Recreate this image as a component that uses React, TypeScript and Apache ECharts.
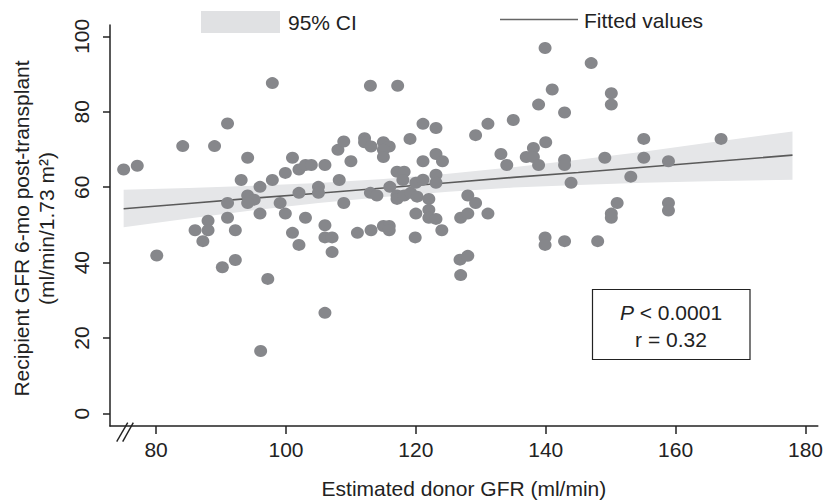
import React, { useEffect, useRef } from "react";
import * as echarts from "echarts";

// Estimated donor GFR (ml/min)
const donorGFR = [
  75.0, 77.1, 80.1, 84.1, 86.0, 87.2, 88.0, 88.0, 89.0, 90.2,
  91.0, 91.0, 91.0, 92.2, 92.2, 93.1, 94.1, 94.1, 95.1, 94.1,
  96.0, 96.0, 96.1, 97.2, 97.9, 97.9, 99.1, 99.9, 99.9, 101.0,
  101.0, 102.0, 102.0, 102.0, 103.0, 103.0, 103.9, 105.0, 105.0, 106.0,
  106.0, 106.0, 107.1, 107.1, 106.0, 108.0, 108.9, 108.2, 108.9, 110.0,
  111.0, 112.1, 112.1, 113.1, 113.0, 113.0, 113.1, 114.0, 115.0, 115.9,
  115.0, 115.0, 115.0, 115.9, 115.9, 116.0, 117.2, 117.1, 118.2, 118.0,
  117.1, 117.1, 118.2, 119.2, 119.1, 120.0, 120.2, 120.0, 119.9, 121.1,
  121.1, 121.1, 122.0, 122.0, 122.0, 123.1, 123.1, 123.1, 123.1, 123.1,
  124.1, 124.0, 126.9, 126.8, 126.9, 128.0, 128.0, 128.0, 129.2, 129.2,
  131.1, 131.1, 133.1, 134.0, 135.0, 137.0, 138.1, 138.1, 138.9, 138.9,
  139.9, 140.0, 139.9, 139.9, 141.0, 142.9, 142.9, 142.9, 142.9, 143.9,
  147.0, 148.0, 149.1, 150.1, 150.1, 150.1, 150.1, 151.0, 153.1, 155.1,
  155.1, 158.9, 158.9, 158.9, 167.0,
];

// Recipient GFR 6-mo post-transplant (ml/min/1.73 m2)
const recipientGFR = [
  64.7, 65.7, 41.9, 70.9, 48.6, 45.7, 51.1, 48.6, 70.9, 38.8,
  76.9, 55.8, 51.9, 48.6, 40.7, 61.9, 67.8, 57.8, 56.7, 55.8,
  60.1, 53.0, 16.6, 35.7, 87.6, 61.9, 55.8, 63.8, 53.0, 67.8,
  47.9, 64.7, 58.5, 44.7, 65.9, 51.9, 65.9, 60.1, 58.5, 65.9,
  49.9, 46.7, 46.7, 42.8, 26.7, 69.9, 72.1, 61.9, 55.8, 66.9,
  47.9, 73.0, 71.9, 70.8, 86.9, 58.5, 48.6, 57.8, 71.9, 70.8,
  69.9, 68.0, 49.7, 49.7, 48.6, 60.1, 86.9, 64.1, 64.1, 61.9,
  57.8, 56.9, 57.8, 58.5, 72.8, 61.2, 57.5, 53.0, 46.7, 76.8,
  66.9, 62.0, 56.9, 54.0, 51.9, 51.6, 75.7, 68.8, 63.3, 61.2,
  66.9, 48.6, 51.9, 40.8, 36.7, 57.8, 53.0, 41.8, 73.8, 55.8,
  76.8, 53.0, 68.8, 65.9, 77.8, 68.0, 70.4, 68.0, 65.9, 81.9,
  96.9, 71.9, 46.7, 44.7, 85.9, 79.8, 67.2, 65.9, 45.7, 61.2,
  92.9, 45.7, 67.8, 84.9, 81.9, 53.0, 51.9, 55.8, 62.8, 72.8,
  67.8, 66.9, 55.8, 53.8, 72.8,
];

// Fitted line and 95% CI band
const bandX = [75, 85, 95, 105, 115, 125, 135, 145, 155, 165, 178];
const fitY = [54.3, 55.7, 57.1, 58.4, 59.8, 61.2, 62.6, 63.9, 65.3, 66.7, 68.5];
const ciLower = [49.4, 51.7, 53.9, 55.8, 57.4, 58.8, 59.9, 60.6, 61.2, 61.6, 62.0];
const ciUpper = [59.3, 59.8, 60.4, 61.1, 62.2, 63.6, 65.3, 67.3, 69.4, 71.8, 74.8];

const xTicks = [80, 100, 120, 140, 160, 180];
const yTicks = [0, 20, 40, 60, 80, 100];

const FONT = "'Liberation Sans', Arial, Helvetica, sans-serif";
const INK = "#222222";
const DOT = "#86878b";
const BAND = "#e5e6e8";
const LINE = "#5a5a5a";

export default function App() {
  const ref = useRef<HTMLDivElement>(null);

  useEffect(() => {
    if (!ref.current) return;
    const chart = echarts.init(ref.current, undefined, { renderer: "svg" });

    const option: any = {
      animation: false,
      backgroundColor: "#ffffff",
      textStyle: { fontFamily: FONT },
      grid: { left: 110, top: 25, right: 3, bottom: 72, containLabel: false },
      xAxis: {
        type: "value",
        min: 72.9,
        max: 181.9,
        name: "Estimated donor GFR (ml/min)",
        nameLocation: "middle",
        nameGap: 52,
        nameTextStyle: { fontFamily: FONT, fontSize: 21, color: INK },
        axisLine: { show: true, onZero: false, lineStyle: { color: INK, width: 1.5 } },
        axisTick: { show: true, length: 8, customValues: xTicks, lineStyle: { color: INK, width: 1.5 } },
        axisLabel: { customValues: xTicks, margin: 13, fontFamily: FONT, fontSize: 21, color: INK },
        splitLine: { show: false },
      },
      yAxis: {
        type: "value",
        min: -3.3,
        max: 103,
        axisLine: { show: true, onZero: false, lineStyle: { color: INK, width: 1.5 } },
        axisTick: { show: true, length: 7, customValues: yTicks, lineStyle: { color: INK, width: 1.5 } },
        axisLabel: { customValues: yTicks, rotate: 90, margin: 18, fontFamily: FONT, fontSize: 21, color: INK },
        splitLine: { show: false },
      },
      series: [
        {
          name: "95% CI",
          type: "custom",
          data: [[bandX[0], ciLower[0]]],
          silent: true,
          z: 1,
          renderItem: (_params: any, api: any) => {
            const upper = bandX.map((x, i) => api.coord([x, ciUpper[i]]));
            const lower = bandX.map((x, i) => api.coord([x, ciLower[i]])).reverse();
            return {
              type: "polygon",
              shape: { points: upper.concat(lower) },
              style: { fill: BAND, stroke: "none" },
            };
          },
        },
        {
          name: "Fitted values",
          type: "line",
          data: bandX.map((x, i) => [x, fitY[i]]),
          symbol: "none",
          lineStyle: { color: LINE, width: 1.6 },
          silent: true,
          z: 2,
        },
        {
          name: "GFR",
          type: "scatter",
          data: donorGFR.map((x, i) => [x, recipientGFR[i]]),
          symbol: "circle",
          symbolSize: [13, 12],
          itemStyle: { color: DOT, opacity: 1 },
          z: 3,
        },
      ],
      graphic: [
        // y-axis title (two lines, rotated)
        {
          type: "text",
          x: 21,
          y: 228.5,
          rotation: Math.PI / 2,
          style: {
            text: "Recipient GFR 6-mo post-transplant",
            fontFamily: FONT,
            fontSize: 21,
            fill: INK,
            align: "center",
            verticalAlign: "middle",
          },
        },
        {
          type: "text",
          x: 46,
          y: 228.5,
          rotation: Math.PI / 2,
          style: {
            text: "(ml/min/1.73 m²)",
            fontFamily: FONT,
            fontSize: 21,
            fill: INK,
            align: "center",
            verticalAlign: "middle",
          },
        },
        // legend: 95% CI
        {
          type: "rect",
          shape: { x: 201, y: 11, width: 79, height: 22 },
          style: { fill: "#e0e1e3" },
        },
        {
          type: "text",
          x: 288,
          y: 22.5,
          style: {
            text: "95% CI",
            fontFamily: FONT,
            fontSize: 21,
            fill: INK,
            align: "left",
            verticalAlign: "middle",
          },
        },
        // legend: Fitted values
        {
          type: "line",
          shape: { x1: 500, y1: 19.5, x2: 578, y2: 19.5 },
          style: { stroke: "#666666", lineWidth: 1.6 },
        },
        {
          type: "text",
          x: 584,
          y: 20,
          style: {
            text: "Fitted values",
            fontFamily: FONT,
            fontSize: 21,
            fill: INK,
            align: "left",
            verticalAlign: "middle",
          },
        },
        // annotation box
        {
          type: "rect",
          shape: { x: 592.5, y: 289.5, width: 157.5, height: 70 },
          style: { fill: "#ffffff", stroke: INK, lineWidth: 1.2 },
          z: 10,
        },
        {
          type: "text",
          x: 671,
          y: 312.7,
          z: 11,
          style: {
            text: "{i|P} < 0.0001",
            fontFamily: FONT,
            fontSize: 21,
            fill: INK,
            align: "center",
            verticalAlign: "middle",
            rich: {
              i: { fontFamily: FONT, fontSize: 21, fontStyle: "italic", fill: INK },
            },
          },
        },
        {
          type: "text",
          x: 671,
          y: 339.4,
          z: 11,
          style: {
            text: "r = 0.32",
            fontFamily: FONT,
            fontSize: 21,
            fill: INK,
            align: "center",
            verticalAlign: "middle",
          },
        },
        // axis break marks
        {
          type: "line",
          shape: { x1: 116.7, y1: 441.7, x2: 127.7, y2: 422.7 },
          style: { stroke: INK, lineWidth: 1.4 },
          z: 10,
        },
        {
          type: "line",
          shape: { x1: 122.7, y1: 441.7, x2: 133.3, y2: 422.7 },
          style: { stroke: INK, lineWidth: 1.4 },
          z: 10,
        },
      ],
    };

    chart.setOption(option);
    return () => {
      chart.dispose();
    };
  }, []);

  return (
    <div
      ref={ref}
      style={{ position: "fixed", left: 0, top: 0, width: 826, height: 504, background: "#fff" }}
    />
  );
}
